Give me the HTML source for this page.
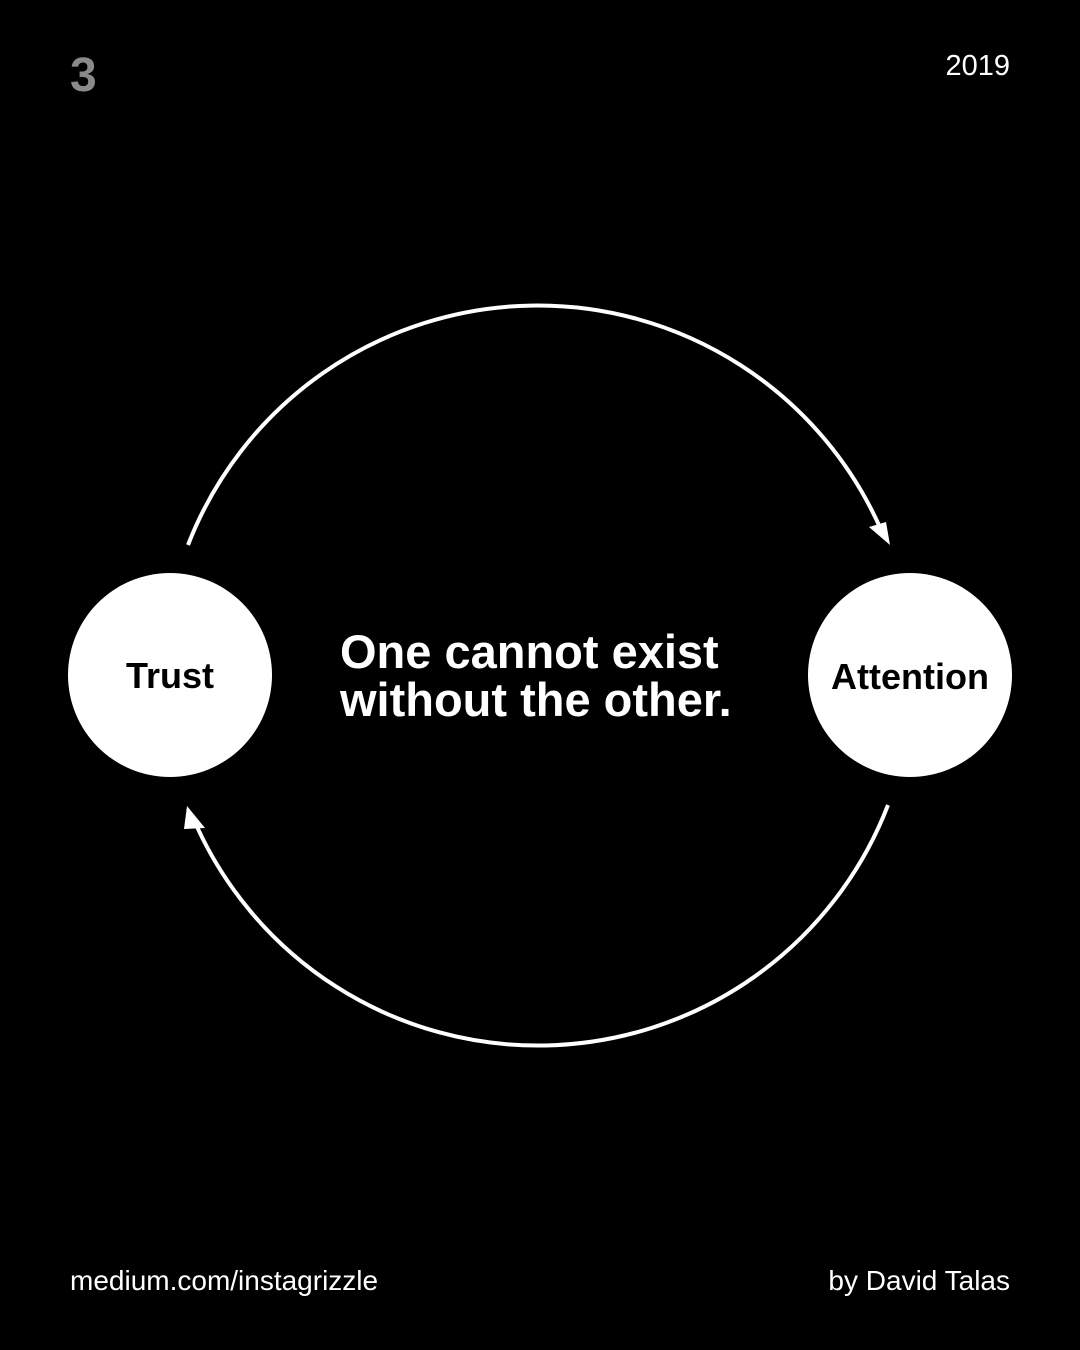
<!DOCTYPE html>
<html><head><style>
body{margin:0;background:#000;}
.c{position:relative;width:1080px;height:1350px;background:#000;overflow:hidden;font-family:"Liberation Sans",sans-serif;color:#fff}
.t{position:absolute;white-space:nowrap}
</style></head><body><div class="c">
<svg width="1080" height="1350" style="position:absolute;left:0;top:0">
<path d="M188,545 A375,375 0 0 1 882,532" fill="none" stroke="#fff" stroke-width="4"/>
<polygon points="890,545 869,527 886,522" fill="#fff"/>
<path d="M888,805 A375,375 0 0 1 194,820" fill="none" stroke="#fff" stroke-width="4"/>
<polygon points="187,806 205,828 184,829" fill="#fff"/>
<circle cx="170" cy="675" r="102" fill="#fff"/>
<circle cx="910" cy="675" r="102" fill="#fff"/>
</svg>
<div class="t" style="left:70px;top:48px;font-size:48px;font-weight:bold;color:#8a8a8a">3</div>
<div class="t" style="right:70px;top:50px;font-size:29px">2019</div>
<div class="t" style="left:70px;width:200px;top:655px;font-size:36px;font-weight:bold;color:#000;text-align:center">Trust</div>
<div class="t" style="left:810px;width:200px;top:656px;font-size:36px;font-weight:bold;color:#000;text-align:center">Attention</div>
<div class="t" style="left:340px;top:628px;font-size:47px;font-weight:bold;line-height:48px">One cannot exist<br>without the other.</div>
<div class="t" style="left:70px;top:1265px;font-size:28px">medium.com/instagrizzle</div>
<div class="t" style="right:70px;top:1265px;font-size:28px">by David Talas</div>
</div></body></html>
